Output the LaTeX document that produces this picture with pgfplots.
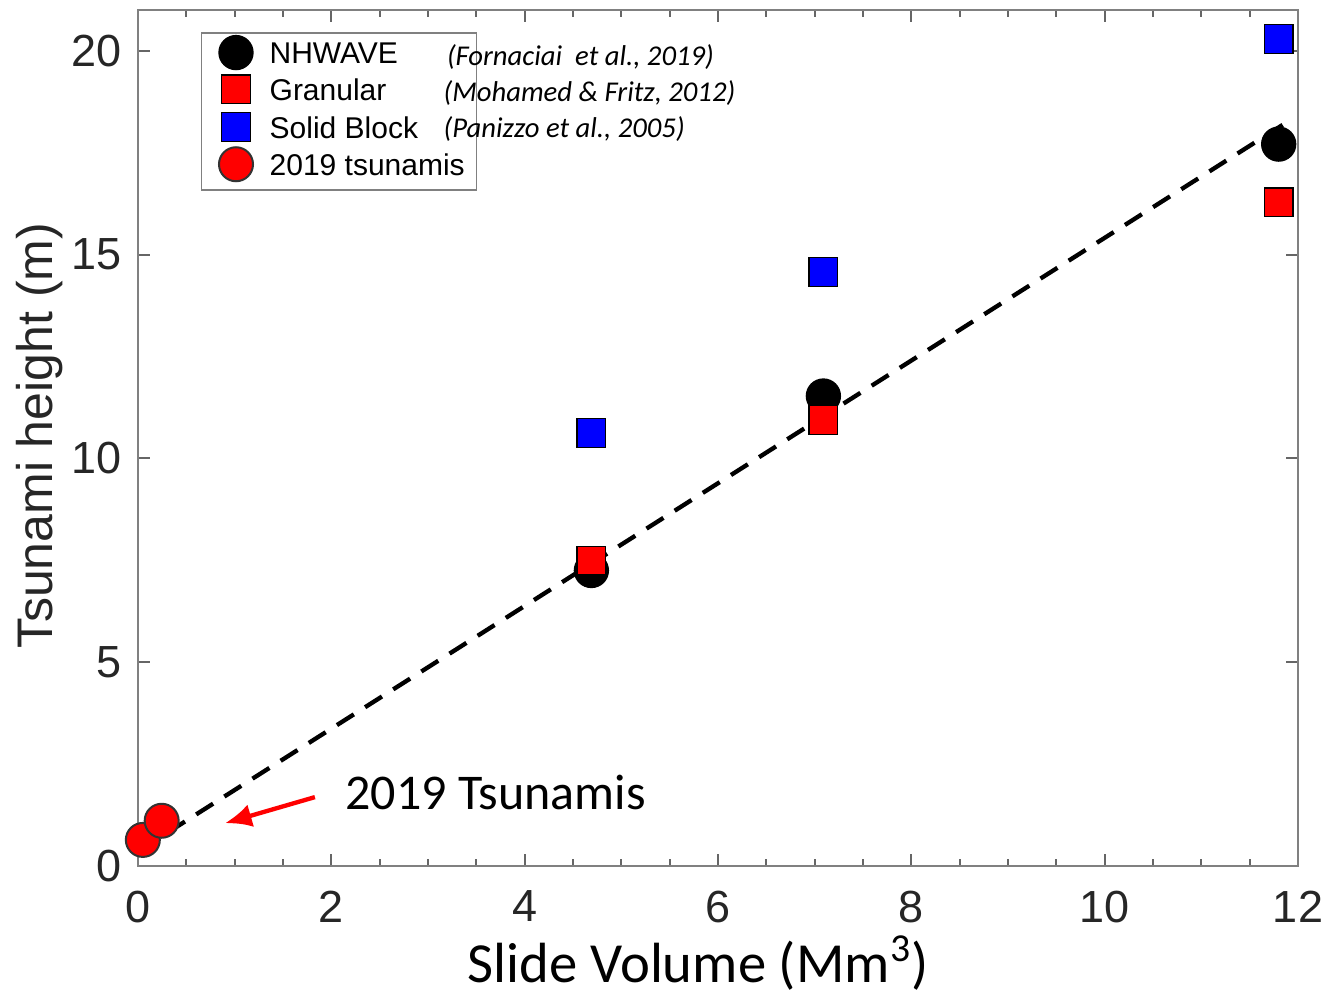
\documentclass[border=0pt]{standalone}
\usepackage{fontspec}
\setmainfont{Liberation Sans}
\newfontfamily\carlito{Carlito}
\usepackage{pgfplots}
\pgfplotsset{compat=1.18}
\usetikzlibrary{arrows.meta}
\definecolor{tickgray}{HTML}{262626}
\pgfplotsset{myleg/.style={legend image code/.code={\path (-8.5pt,0pt) (7.8pt,1pt); \draw[##1] plot coordinates {(0pt,0.9pt)};}}}
\begin{document}
\begin{tikzpicture}
\begin{axis}[
  scale only axis, width=348pt, height=256.8pt,
  xmin=0, xmax=12, ymin=0, ymax=21,
  xtick={0,2,...,12}, ytick={0,5,...,20}, minor x tick num=3,
  tick align=inside, major tick length=3.5pt, minor tick length=2pt,
  axis line style={black!50, line width=0.6pt},
  tick style={black!60, line width=0.6pt},
  /pgf/number format/assume math mode=true,
  ticklabel style={font=\fontsize{13.5}{16}\selectfont, text=tickgray},
  xticklabel style={yshift=-3.9pt},
  yticklabel style={xshift=-1.5pt},
  xlabel={{\carlito\fontsize{17}{20}\selectfont Slide Volume (Mm\textsuperscript{3})}},
  xlabel style={at={(axis description cs:0.483,-0.113)}, anchor=center},
  ylabel={Tsunami height (m)},
  ylabel style={at={(axis description cs:-0.0845,0.503)}, anchor=center, font=\fontsize{15}{18}\selectfont, text=tickgray},
  legend style={at={(rel axis cs:0.0543,0.974)}, anchor=north west, draw=black!50,
    font=\fontsize{9}{10.8}\selectfont, row sep=-0.8pt, inner xsep=1.5pt, inner ysep=0.8pt},
  legend cell align=left,
]
\addplot[only marks, myleg, mark=*, mark size=5.1pt, draw=none, fill=black] coordinates {
  (4.69,7.25) (7.09,11.53) (11.80,17.71)};
\addlegendentry{NHWAVE}
\addplot[only marks, myleg, mark=square*, mark size=4.3pt, draw=none, fill=red] coordinates {
  (4.69,7.49) (7.09,10.94) (11.80,16.28)};
\addlegendentry{Granular}
\addplot[only marks, myleg, mark=square*, mark size=4.3pt, draw=none, fill=blue] coordinates {
  (4.69,10.62) (7.09,14.57) (11.80,20.29)};
\addlegendentry{Solid Block}
\addplot[only marks, myleg, mark=*, mark size=5.1pt, draw=black!80, line width=0.6pt, fill=red] coordinates {
  (0.05,0.64) (0.245,1.11)};
\addlegendentry{2019 tsunamis}
\addplot[forget plot, black, line width=1.3pt, dash pattern=on 6pt off 4pt] coordinates {
  (0.02,0.39) (11.88,18.24)};
\draw[red, line width=1.3pt, -{Latex[length=8pt,width=7pt]}] (axis cs:1.83,1.69) -- (axis cs:0.9,1.05);
\node[anchor=west, inner sep=0pt, font=\carlito\fontsize{15}{18}\selectfont] at (axis cs:2.14,1.81) {2019 Tsunamis};
\coordinate (C1) at (axis cs:3.19,19.85);
\coordinate (C2) at (axis cs:3.155,18.97);
\coordinate (C3) at (axis cs:3.155,18.09);
\coordinate (SW) at (rel axis cs:0,0);
\coordinate (NE) at (rel axis cs:1,1);
\end{axis}
\node[anchor=west, inner sep=0pt, font=\carlito\itshape\fontsize{8.6}{10}\selectfont] at (C1) {(Fornaciai\ \ et al., 2019)};
\node[anchor=west, inner sep=0pt, font=\carlito\itshape\fontsize{8.6}{10}\selectfont] at (C2) {(Mohamed \& Fritz, 2012)};
\node[anchor=west, inner sep=0pt, font=\carlito\itshape\fontsize{8.6}{10}\selectfont] at (C3) {(Panizzo et al., 2005)};
\pgfresetboundingbox
\path ([shift={(-41.4pt,-37.8pt)}]SW) rectangle ([shift={(8.4pt,3pt)}]NE);
\end{tikzpicture}
\end{document}
